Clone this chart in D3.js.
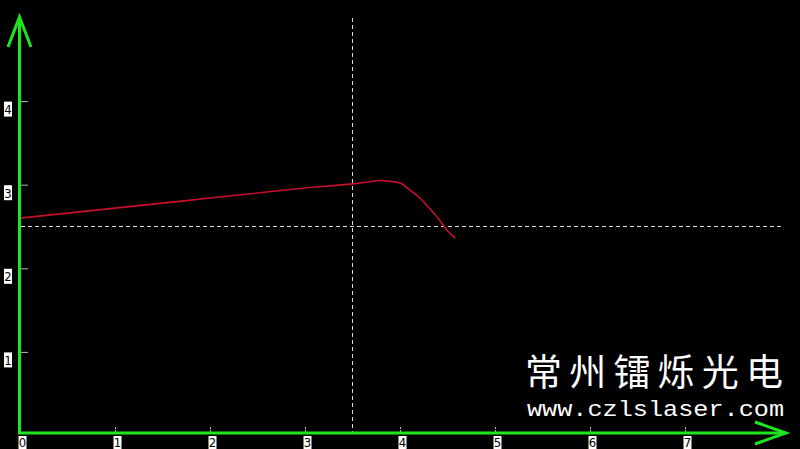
<!DOCTYPE html>
<html>
<head>
<meta charset="utf-8">
<script src="https://cdn.jsdelivr.net/npm/d3@7"></script>
<style>
  html, body { margin: 0; padding: 0; background: #000; }
  svg { display: block; }
</style>
</head>
<body>
<svg id="chart" width="800" height="449"></svg>
<script>
// curve
var xVals = [0, 0.5, 1.0, 1.5, 2.0, 2.5, 3.0, 3.5, 3.65, 3.8, 3.9, 4.0, 4.1, 4.2, 4.3, 4.4, 4.5, 4.58];
var yVals = [2.60, 2.66, 2.72, 2.78, 2.84, 2.90, 2.96, 3.01, 3.03, 3.05, 3.04, 3.02, 2.94, 2.85, 2.73, 2.60, 2.45, 2.36];
var xTicks = [0, 1, 2, 3, 4, 5, 6, 7];
var yTicks = [1, 2, 3, 4];
var cross = [3.5, 2.5];
var title = "常州镭烁光电";
var site = "www.czlslaser.com";

var svg = d3.select("#chart");
var green = "#1ee61e";
var labelFont = "13px 'Liberation Sans Narrow', 'DejaVu Sans Condensed', sans-serif";

var x = d3.scaleLinear().domain([0, 8]).range([20, 780]);
var y = d3.scaleLinear().domain([0, 5]).range([435.5, 17.5]);

svg.append("rect").attr("width", 800).attr("height", 449).attr("fill", "#000");

// ticks
var axisX = d3.axisBottom(x).tickValues(xTicks).tickSize(-6).tickFormat(d3.format("d"));
var gx = svg.append("g").attr("transform", "translate(0,432)").call(axisX);
gx.select(".domain").remove();
gx.selectAll(".tick line").attr("stroke", "#bbb").attr("stroke-dasharray", "2,1");
gx.selectAll(".tick text").remove();
gx.selectAll(".tick").append("rect")
    .attr("x", -2).attr("y", 4).attr("width", 8).attr("height", 13).attr("fill", "#fff");
gx.selectAll(".tick").append("text")
    .attr("x", 2).attr("y", 14.5)
    .attr("text-anchor", "middle")
    .attr("fill", "#000")
    .style("font", labelFont)
    .text(function(d){ return d; });

var axisY = d3.axisLeft(y).tickValues(yTicks).tickSize(-8).tickFormat(d3.format("d"));
var gy = svg.append("g").attr("transform", "translate(20,0)").call(axisY);
gy.select(".domain").remove();
gy.selectAll(".tick line").attr("stroke", "#bbb");
gy.selectAll(".tick text").remove();
gy.selectAll(".tick").append("rect")
    .attr("x", -16).attr("y", 0).attr("width", 8).attr("height", 15).attr("fill", "#fff");
gy.selectAll(".tick").append("text")
    .attr("x", -12).attr("y", 12.5)
    .attr("text-anchor", "middle")
    .attr("fill", "#000")
    .style("font", labelFont)
    .text(function(d){ return d; });

// crosshair
svg.append("line")
    .attr("x1", x(cross[0])).attr("x2", x(cross[0]))
    .attr("y1", 18).attr("y2", 432)
    .attr("stroke", "#ddd").attr("stroke-width", 1).attr("stroke-dasharray", "4,3");
svg.append("line")
    .attr("x1", 21).attr("x2", 783)
    .attr("y1", y(cross[1])).attr("y2", y(cross[1]))
    .attr("stroke", "#ddd").attr("stroke-width", 1).attr("stroke-dasharray", "4,3");

// curve
var pts = xVals.map(function(d, i){ return [d, yVals[i]]; });
var line = d3.line()
    .x(function(d){ return x(d[0]); })
    .y(function(d){ return y(d[1]); })
    .curve(d3.curveMonotoneX);
svg.append("path")
    .datum(pts)
    .attr("d", line)
    .attr("fill", "none")
    .attr("stroke", "#c8102a")
    .attr("stroke-width", 1.6);

// green axes with arrows
svg.append("line").attr("x1", 19.5).attr("x2", 19.5).attr("y1", 434).attr("y2", 18)
    .attr("stroke", green).attr("stroke-width", 3);
svg.append("line").attr("x1", 18).attr("x2", 785).attr("y1", 433).attr("y2", 433)
    .attr("stroke", green).attr("stroke-width", 3);
svg.append("path").attr("d", "M8,47 L19.5,17 L31,47")
    .attr("fill", "none").attr("stroke", green).attr("stroke-width", 3);
svg.append("path").attr("d", "M755,422 L786,433 L755,444")
    .attr("fill", "none").attr("stroke", green).attr("stroke-width", 3);

// watermark
svg.append("text")
    .attr("x", 525).attr("y", 386)
    .attr("textLength", 258).attr("lengthAdjust", "spacing")
    .attr("fill", "#fff")
    .style("font", "37px 'Noto Sans CJK SC', sans-serif")
    .text(title);
svg.append("text")
    .attr("x", 527).attr("y", 415.5)
    .attr("textLength", 257).attr("lengthAdjust", "spacingAndGlyphs")
    .attr("fill", "#fff")
    .style("font", "22px 'Liberation Mono', monospace")
    .text(site);
</script>
</body>
</html>
